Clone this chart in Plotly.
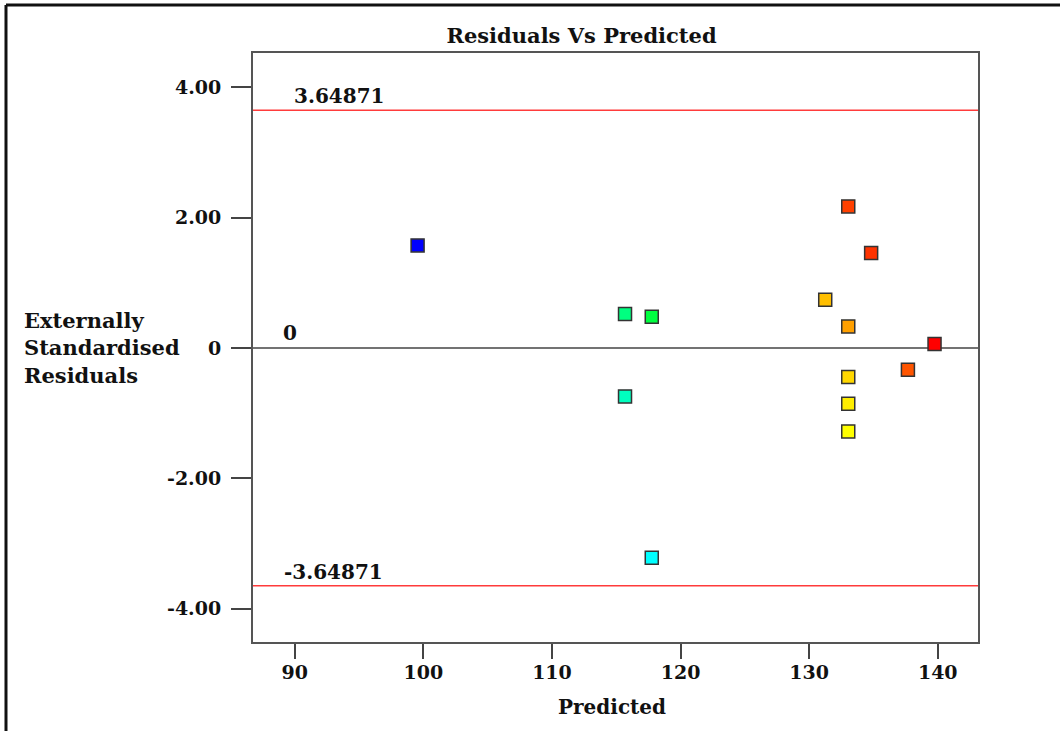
import plotly.graph_objects as go

# ---- data ----
predicted = [99.55, 115.68, 117.76, 115.68, 117.76, 133.04, 134.82, 131.25,
             133.04, 139.75, 137.68, 133.04, 133.04, 133.04]
residuals = [1.575, 0.523, 0.481, -0.742, -3.217, 2.174, 1.459, 0.742,
             0.332, 0.062, -0.332, -0.444, -0.854, -1.279]
point_colors = ["#0000FF", "#00FF80", "#00FF40", "#00FFBF", "#00FFFF",
                "#FF4000", "#FF3300", "#FFBF00", "#FFA000", "#FF0000",
                "#FF5500", "#FFD700", "#FFEE00", "#FFFF00"]
limit_upper = 3.64871
limit_lower = -3.64871
y_tickvals = [-4, -2, 0, 2, 4]
y_ticktext = ["-4.00", "-2.00", "0", "2.00", "4.00"]
x_tickvals = [90, 100, 110, 120, 130, 140]
x_ticktext = ["90", "100", "110", "120", "130", "140"]

FONT = "DejaVu Serif"

fig = go.Figure()
fig.add_trace(go.Scatter(
    x=predicted, y=residuals, mode="markers",
    marker=dict(symbol="square", size=13, color=point_colors,
                line=dict(color="#333333", width=1.5)),
    hoverinfo="x+y", showlegend=False,
))

shapes = [
    dict(type="line", xref="paper", x0=0, x1=1, yref="y", y0=0, y1=0,
         line=dict(color="#444444", width=1.5), layer="below"),
    dict(type="line", xref="paper", x0=0, x1=1, yref="y", y0=limit_upper, y1=limit_upper,
         line=dict(color="#FF3B3B", width=1.5), layer="below"),
    dict(type="line", xref="paper", x0=0, x1=1, yref="y", y0=limit_lower, y1=limit_lower,
         line=dict(color="#FF3B3B", width=1.5), layer="below"),
    # outer frame (top and left)
    dict(type="line", xref="paper", yref="paper", x0=-0.3407, x1=1.12, y0=1.0815, y1=1.0815,
         line=dict(color="#111111", width=3)),
    dict(type="line", xref="paper", yref="paper", x0=-0.3407, x1=-0.3407, y0=-0.16, y1=1.0815,
         line=dict(color="#111111", width=3)),
]

annotations = [
    dict(x=89.77, y=limit_upper, xref="x", yref="y", text="<b>3.64871</b>",
         showarrow=False, xanchor="left", yanchor="bottom",
         font=dict(family=FONT, size=20, color="#111111")),
    dict(x=88.99, y=limit_lower, xref="x", yref="y", text="<b>-3.64871</b>",
         showarrow=False, xanchor="left", yanchor="bottom",
         font=dict(family=FONT, size=20, color="#111111")),
    dict(x=88.95, y=0, xref="x", yref="y", text="<b>0</b>",
         showarrow=False, xanchor="left", yanchor="bottom", yshift=1,
         font=dict(family=FONT, size=20, color="#111111")),
    dict(x=-0.3186, y=0.4986, xref="paper", yref="paper",
         text="<b>Externally<br>Standardised<br>Residuals</b>",
         showarrow=False, xanchor="left", yanchor="middle", align="left",
         font=dict(family=FONT, size=21, color="#111111")),
    dict(x=0.4952, y=-0.1104, xref="paper", yref="paper", text="<b>Predicted</b>",
         showarrow=False, xanchor="center", yanchor="middle",
         font=dict(family=FONT, size=20, color="#111111")),
]

fig.update_layout(
    width=1060, height=731,
    margin=dict(l=253, r=82, t=53, b=89),
    paper_bgcolor="white", plot_bgcolor="white",
    title=dict(text="<b>Residuals Vs Predicted</b>", x=0.5486, xref="container",
               xanchor="center", y=0.9508, yref="container", yanchor="middle",
               font=dict(family=FONT, size=21, color="#111111")),
    shapes=shapes, annotations=annotations,
    xaxis=dict(range=[86.75, 143.13], tickvals=x_tickvals,
               ticktext=["<b>%s</b>" % t for t in x_ticktext],
               ticks="outside", ticklen=15, tickwidth=2, tickcolor="#444444",
               showline=True, mirror=True, linecolor="#555555", linewidth=2,
               showgrid=False, zeroline=False, ticklabelstandoff=-3,
               tickfont=dict(family=FONT, size=19, color="#111111")),
    yaxis=dict(range=[-4.511, 4.528], tickvals=y_tickvals,
               ticktext=["<b>%s</b>" % t for t in y_ticktext],
               ticks="outside", ticklen=20, tickwidth=2, tickcolor="#444444",
               showline=True, mirror=True, linecolor="#555555", linewidth=2,
               showgrid=False, zeroline=False, ticklabelstandoff=6,
               tickfont=dict(family=FONT, size=19, color="#111111")),
)

fig.write_html("out.html")
